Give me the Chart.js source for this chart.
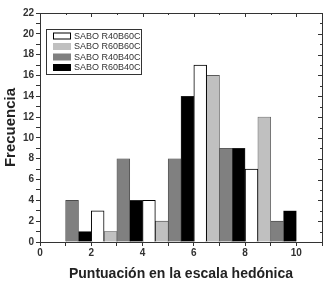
<!DOCTYPE html>
<html>
<head>
<meta charset="utf-8">
<script src="https://cdn.jsdelivr.net/npm/chart.js@4/dist/chart.umd.min.js"></script>
<style>
  html, body { margin: 0; padding: 0; background: #fff; }
  #wrap { width: 330px; height: 283px; }
</style>
</head>
<body>
<div id="wrap"><canvas id="histo"></canvas></div>
<script>
// series labels + colours
const seriesNames = ['SABO R40B60C', 'SABO R60B60C', 'SABO R40B40C', 'SABO R60B40C'];
const seriesFill = ['#ffffff', '#c0c0c0', '#808080', '#000000'];

// bin centres (half-unit bins) and frequencies per series
const binsR40B60C = [2.25, 4.25, 6.25, 8.25];
const freqR40B60C = [3, 4, 17, 7];
const binsR60B60C = [2.75, 4.75, 6.75, 8.75];
const freqR60B60C = [1, 2, 16, 12];
const binsR40B40C = [1.25, 3.25, 5.25, 7.25, 9.25];
const freqR40B40C = [4, 8, 8, 9, 2];
const binsR60B40C = [1.75, 3.75, 5.75, 7.75, 9.75];
const freqR60B40C = [1, 4, 14, 9, 3];

const xTicksLabelled = [0, 2, 4, 6, 8, 10];
const yTicksLabelled = [0, 2, 4, 6, 8, 10, 12, 14, 16, 18, 20, 22];

const allBins = [binsR40B60C, binsR60B60C, binsR40B40C, binsR60B40C];
const allFreq = [freqR40B60C, freqR60B60C, freqR40B40C, freqR60B40C];

const datasets = seriesNames.map((name, i) => ({
    label: name,
    data: allBins[i].map((x, j) => ({x: x, y: allFreq[i][j]})),
    backgroundColor: seriesFill[i],
    borderColor: i === 0 ? '#000' : '#3a3a3a',
    borderWidth: i === 0 ? 1 : 0.6,
    grouped: false,
    barPercentage: 1,
    categoryPercentage: 1
}));

const LINE = '#333';

// frame, mirrored ticks and legend box
const framePlugin = {
    id: 'frame',
    afterDraw(chart) {
        const {ctx, chartArea: a, scales} = chart;
        ctx.save();
        ctx.strokeStyle = LINE;
        ctx.lineWidth = 1;
        ctx.strokeRect(a.left + 0.5, a.top + 0.5, a.right - a.left, a.bottom - a.top);

        // inward ticks on top and right
        ctx.beginPath();
        for (let v = 1; v <= 11; v++) {
            const px = Math.round(scales.x.getPixelForValue(v)) + 0.5;
            const len = v % 2 === 0 ? 4 : 2;
            ctx.moveTo(px, a.top);
            ctx.lineTo(px, a.top + len);
        }
        for (let v = 1; v <= 22; v++) {
            const py = Math.round(scales.y.getPixelForValue(v)) + 0.5;
            const len = v % 2 === 0 ? 4 : 2;
            ctx.moveTo(a.right, py);
            ctx.lineTo(a.right - len, py);
        }
        ctx.stroke();

        // legend
        const bx = 46, by = 29, bw = 95, bh = 45;
        ctx.fillStyle = '#fff';
        ctx.fillRect(bx, by, bw, bh);
        ctx.strokeStyle = LINE;
        ctx.strokeRect(bx + 0.5, by + 0.5, bw, bh);
        ctx.font = '9px "Liberation Sans", Arial, sans-serif';
        ctx.textBaseline = 'middle';
        chart.data.datasets.forEach((ds, i) => {
            const cy = by + 7 + i * 10.5;
            ctx.fillStyle = ds.backgroundColor;
            ctx.fillRect(bx + 7, cy - 3.5, 18, 7);
            if (i === 0) {
                ctx.strokeStyle = '#000';
                ctx.strokeRect(bx + 7.5, cy - 3, 17, 6);
            }
            ctx.fillStyle = '#333';
            ctx.fillText(ds.label, bx + 28, cy + 0.5);
        });
        ctx.restore();
    }
};

new Chart(document.getElementById('histo'), {
    type: 'bar',
    data: { datasets: datasets },
    options: {
        responsive: true,
        maintainAspectRatio: false,
        animation: false,
        layout: { padding: { top: 13, right: 8, left: 2, bottom: 0 } },
        plugins: { legend: { display: false }, tooltip: { enabled: false } },
        scales: {
            x: {
                type: 'linear',
                offset: false,
                min: 0, max: 11,
                afterFit(s) { s.height = 41; },
                afterBuildTicks(s) {
                    const t = [];
                    for (let v = 0; v <= 11; v++) t.push({value: v});
                    s.ticks = t;
                },
                grid: { drawOnChartArea: false, offset: false, tickLength: 4, color: LINE, tickColor: LINE },
                border: { color: LINE },
                ticks: {
                    autoSkip: false, maxRotation: 0, padding: 1,
                    color: '#333',
                    font: { family: '"Liberation Sans", Arial, sans-serif', size: 10, weight: 'bold' },
                    callback: v => xTicksLabelled.includes(v) ? String(v) : ''
                },
                title: {
                    display: true,
                    text: 'Puntuación en la escala hedónica',
                    color: '#222',
                    padding: { top: 6, bottom: 0 },
                    font: { family: '"Liberation Sans", Arial, sans-serif', size: 14, weight: 'bold' }
                }
            },
            y: {
                min: 0, max: 22,
                afterFit(s) { s.width = 38; },
                afterBuildTicks(s) {
                    const t = [];
                    for (let v = 0; v <= 22; v++) t.push({value: v});
                    s.ticks = t;
                },
                grid: { drawOnChartArea: false, tickLength: 4, color: LINE, tickColor: LINE },
                border: { color: LINE },
                ticks: {
                    autoSkip: false, padding: 2,
                    color: '#333',
                    font: { family: '"Liberation Sans", Arial, sans-serif', size: 10, weight: 'bold' },
                    callback: v => yTicksLabelled.includes(v) ? String(v) : ''
                },
                title: {
                    display: true,
                    text: 'Frecuencia',
                    color: '#222',
                    padding: { top: 0, bottom: 0 },
                    font: { family: '"Liberation Sans", Arial, sans-serif', size: 15, weight: 'bold' }
                }
            }
        }
    },
    plugins: [framePlugin]
});
</script>
</body>
</html>
